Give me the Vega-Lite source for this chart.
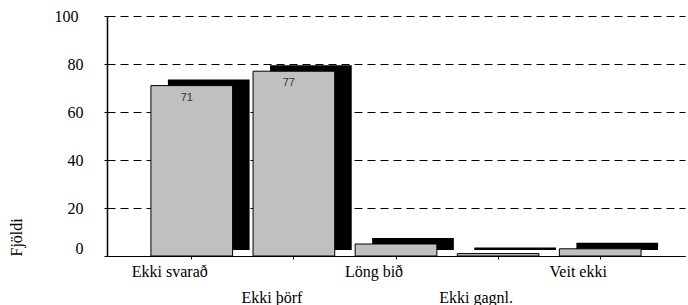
{
  "$schema": "https://vega.github.io/schema/vega-lite/v6.json",
  "width": 578,
  "height": 240,
  "autosize": "none",
  "padding": {"left": 107, "top": 16, "right": 3, "bottom": 49},
  "background": "white",
  "data": {
    "values": [
      {"cat": "Ekki svarað", "value": 71},
      {"cat": "Ekki þörf", "value": 77},
      {"cat": "Löng bið", "value": 5},
      {"cat": "Ekki gagnl.", "value": 1},
      {"cat": "Veit ekki", "value": 3}
    ]
  },
  "config": {
    "view": {"stroke": null},
    "axis": {
      "labelFont": "Liberation Serif, DejaVu Serif, serif",
      "titleFont": "Liberation Serif, DejaVu Serif, serif",
      "labelFontSize": 16,
      "titleFontSize": 16,
      "titleFontWeight": "normal",
      "labelColor": "#000",
      "titleColor": "#000",
      "domainColor": "#000",
      "tickColor": "#000"
    }
  },
  "encoding": {
    "x": {
      "field": "cat",
      "type": "nominal",
      "sort": null,
      "scale": {"paddingInner": 0.2, "paddingOuter": 0.43},
      "axis": {
        "title": null,
        "labelAngle": 0,
        "tickSize": 3,
        "labelOffset": -22,
        "labelPadding": {"condition": {"test": "datum.value === 'Ekki þörf' || datum.value === 'Ekki gagnl.'", "value": 30}, "value": 4},
        "domainWidth": 1
      }
    }
  },
  "layer": [
    {
      "mark": {"type": "bar", "color": "#000", "xOffset": 17, "x2Offset": 17, "yOffset": -6, "y2Offset": -6},
      "encoding": {
        "y": {
          "field": "value",
          "type": "quantitative",
          "scale": {"domain": [0, 100]},
          "axis": {
            "title": "Fjöldi",
            "titleAnchor": "start",
            "titlePadding": 30,
            "values": [0, 20, 40, 60, 80, 100],
            "tickSize": 3,
            "labelPadding": {"condition": {"test": "datum.value === 100", "value": 26}, "value": 21},
            "labelOffset": {"condition": {"test": "datum.value === 0", "value": -8}, "value": 0},
            "grid": true,
            "gridColor": "#000",
            "gridDash": [8, 5],
            "gridWidth": 1,
            "domainWidth": 1.5
          }
        }
      }
    },
    {
      "mark": {"type": "bar", "fill": "#c0c0c0", "stroke": "#000", "strokeWidth": 1},
      "encoding": {"y": {"field": "value", "type": "quantitative"}}
    },
    {
      "transform": [{"filter": "datum.value > 10"}],
      "mark": {"type": "text", "font": "Liberation Sans", "fontSize": 11, "color": "#333", "dy": 15, "dx": -5, "baseline": "alphabetic"},
      "encoding": {
        "y": {"field": "value", "type": "quantitative"},
        "text": {"field": "value", "type": "quantitative"}
      }
    }
  ]
}
